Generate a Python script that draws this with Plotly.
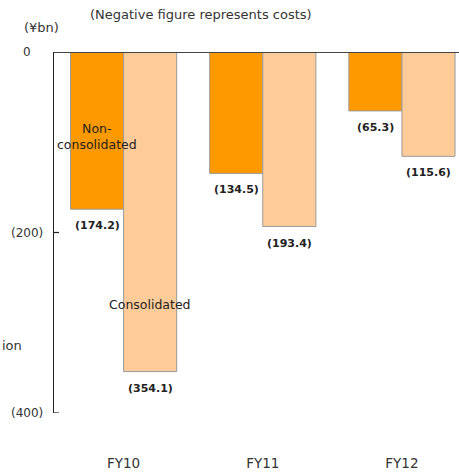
import plotly.graph_objects as go

# Costs by fiscal year (¥bn, negative = cost)
years = ["FY10", "FY11", "FY12"]
non_consolidated = [-174.2, -134.5, -65.3]
consolidated = [-354.1, -193.4, -115.6]

y_ticks = [0, -200, -400]
y_tick_text = ["0", "(200)", "(400)"]

ORANGE = "#FF9900"
PEACH = "#FFCC99"
EDGE = "#9A9A9A"
TEXT = "#333333"
FONT = "DejaVu Sans"

W, H = 459, 476
PLOT_L, PLOT_T, PLOT_B = 54, 52, 63
BAR_HALF = 26.5
TICK_LEN = 5

fig = go.Figure()
fig.add_bar(x=years, y=non_consolidated, name="Non-consolidated",
            marker=dict(color=ORANGE, line=dict(color=EDGE, width=1)))
fig.add_bar(x=years, y=consolidated, name="Consolidated",
            marker=dict(color=PEACH, line=dict(color=EDGE, width=1)))


def fmt(v):
    return "(%.1f)" % abs(v) if v < 0 else "%.1f" % v


annotations = []
# value labels under each bar
for yr, nv, cv in zip(years, non_consolidated, consolidated):
    for v, shift in ((nv, -BAR_HALF), (cv, BAR_HALF)):
        annotations.append(dict(x=yr, y=v, xref="x", yref="y", text=fmt(v),
                                showarrow=False, xshift=shift, yshift=-8,
                                yanchor="top", xanchor="center",
                                font=dict(family=FONT, size=11, color="#222222",
                                          weight="bold")))

# y tick labels, centred left of the axis
for v, t in zip(y_ticks, y_tick_text):
    annotations.append(dict(x=0, xref="paper", xshift=-27, y=v, yref="y", text=t,
                            showarrow=False, xanchor="center", yanchor="middle",
                            font=dict(family=FONT, size=12, color=TEXT)))

# series names inside the FY10 bars
annotations.append(dict(x=years[0], y=-94, xref="x", yref="y", text="Non-<br>consolidated",
                        showarrow=False, xshift=-BAR_HALF, xanchor="center", yanchor="middle",
                        font=dict(family=FONT, size=12.5, color="#222222")))
annotations.append(dict(x=years[0], y=-280, xref="x", yref="y", text="Consolidated",
                        showarrow=False, xshift=BAR_HALF, xanchor="center", yanchor="middle",
                        font=dict(family=FONT, size=12.5, color="#222222")))

# headers placed in pixels, converted to paper coordinates
pw, ph = W - PLOT_L, H - PLOT_T - PLOT_B
for txt, px, py, size in (("(Negative figure represents costs)", 88, 14, 13),
                          ("(¥bn)", 22, 27, 13),
                          ("ion", 0, 345, 13)):
    annotations.append(dict(x=(px - PLOT_L) / pw, y=1 - (py - PLOT_T) / ph,
                            xref="paper", yref="paper", text=txt,
                            showarrow=False, xanchor="left", yanchor="middle",
                            font=dict(family=FONT, size=size, color=TEXT)))

shapes = [dict(type="line", xref="paper", yref="y", x0=0, x1=1, y0=0, y1=0,
               line=dict(color="#444444", width=2))]
# short inward tick marks on the value axis
for v in y_ticks[1:]:
    shapes.append(dict(type="line", xref="paper", xsizemode="pixel", xanchor=0,
                       x0=0, x1=TICK_LEN, yref="y", y0=v, y1=v,
                       line=dict(color="#222222", width=1.2)))

fig.update_layout(
    width=W, height=H,
    margin=dict(l=PLOT_L, r=0, t=PLOT_T, b=PLOT_B),
    plot_bgcolor="white", paper_bgcolor="white",
    barmode="group", bargap=0.237, bargroupgap=0,
    showlegend=False,
    font=dict(family=FONT, color=TEXT),
    annotations=annotations,
    shapes=shapes,
)
fig.update_xaxes(type="category", range=[-0.5, 2.41], showline=False, showgrid=False,
                 ticks="", ticklabelstandoff=40,
                 tickfont=dict(family=FONT, size=13.5, color=TEXT))
fig.update_yaxes(range=[-400, 0], showticklabels=False, ticks="",
                 showline=True, linecolor="#222222", linewidth=1.3,
                 showgrid=False, zeroline=False)

fig.write_html("out.html")
